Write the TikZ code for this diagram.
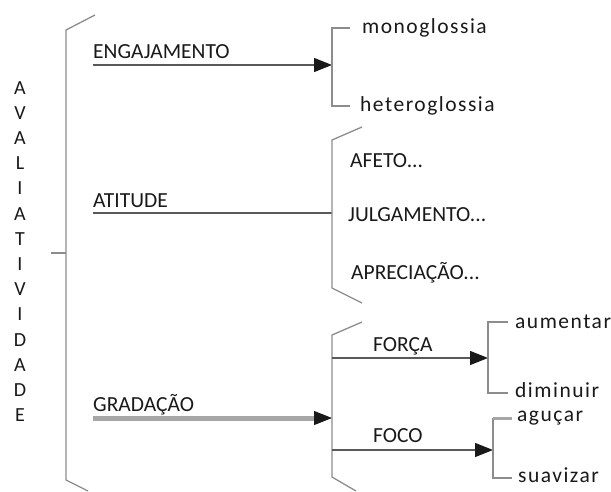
\documentclass[tikz,border=0pt]{standalone}
\usepackage{fontspec}
\setmainfont{Carlito}
\usetikzlibrary{arrows.meta}
\begin{document}
\begin{tikzpicture}[x=1pt,y=-1pt,
  lbl/.style={anchor=base west, inner sep=0pt, text=black!90,
    font=\fontsize{21.5}{24}\selectfont},
  low/.style={lbl, font=\fontsize{21.5}{24}\selectfont\addfontfeature{LetterSpace=7}},
  vlet/.style={anchor=base, inner sep=0pt, text=black!90,
    font=\fontsize{20}{22}\selectfont},
  brk/.style={draw=black!45, line width=1.3pt},
  link/.style={draw=black!65, line width=1.2pt},
  tip/.style={-{Triangle[length=18pt,width=14pt,color=black!90,fill=black!90]}},
  arr/.style={link, tip},
  thick gray/.style={draw=black!35, line width=5pt}]
\useasboundingbox (0,0) rectangle (611,491);

% vertical title
\foreach \c [count=\i from 0] in {A,V,A,L,I,A,T,I,V,I,D,A,D,E}
  \node[vlet] (t\i) at (20,{94+\i*25.2}) {\c};

% main brace
\coordinate (mTop) at (66,30);
\coordinate (mBot) at (66,480);
\coordinate (mMid) at (66,253);
\coordinate (mTick) at (51,253);
\draw[brk] (95,15) -- (mTop) -- (mBot) -- (88,491);
\draw[brk] (mTick) -- (mMid);

% ENGAJAMENTO branch
\node[lbl] (eng) at (93,58) {ENGAJAMENTO};
\coordinate (engS) at (93,65);
\coordinate (engB) at (332,65);
\draw[arr] (engS) -- (engB);
\node[low] (mono) at (362,33) {monoglossia};
\node[low] (hetero) at (360,111) {heteroglossia};
\coordinate (engT) at (332,28);
\coordinate (engD) at (332,106);
\draw[brk] (350,28) -- (engT) -- (engD) -- (350,106);

% ATITUDE branch
\node[lbl] (ati) at (93,207) {ATITUDE};
\coordinate (atiS) at (93,213);
\coordinate (atiB) at (332,213);
\draw[link] (atiS) -- (atiB);
\coordinate (atiT) at (332,140);
\coordinate (atiD) at (332,288);
\draw[brk] (362,127) -- (atiT) -- (atiD) -- (362,303);
\node[lbl] (afeto) at (350,167) {AFETO...};
\node[lbl] (julg) at (348,221) {JULGAMENTO...};
\node[lbl] (apre) at (351,279) {APRECIAÇÃO...};

% GRADACAO branch: thick grey shaft ending in a dark tip
\node[lbl] (grad) at (93,411) {GRADAÇÃO};
\coordinate (gradS) at (93,418);
\coordinate (gradB) at (332,418);
\draw[thick gray] (gradS) -- (318,418);
\draw[draw=black!35, line width=1pt, tip, shorten <=210pt] (gradS) -- (gradB);
\coordinate (grT) at (332,335);
\coordinate (grD) at (332,477);
\draw[brk] (362,322) -- (grT) -- (grD) -- (356,491);

% FORCA
\node[lbl] (forca) at (373,351) {FORÇA};
\coordinate (foS) at (332,358);
\coordinate (foB) at (488,358);
\draw[arr] (foS) -- (foB);
\coordinate (foT) at (488,322);
\coordinate (foD) at (488,393);
\draw[brk] (508,322) -- (foT) -- (foD) -- (508,393);
\node[low] (aum) at (515,328) {aumentar};
\node[low] (dim) at (515,397) {diminuir};

% FOCO
\node[lbl] (foco) at (373,442) {FOCO};
\coordinate (fcS) at (332,450);
\coordinate (fcB) at (493,450);
\draw[arr] (fcS) -- (fcB);
\coordinate (fcT) at (493,418);
\coordinate (fcD) at (493,478);
\draw[brk] (fcT) -- (fcD) -- (512,478);
\draw[draw=black!35, line width=3pt] (fcT) -- (512,418);
\node[low] (agu) at (517,421) {aguçar};
\node[low] (suav) at (518,482) {suavizar};
\end{tikzpicture}
\end{document}
